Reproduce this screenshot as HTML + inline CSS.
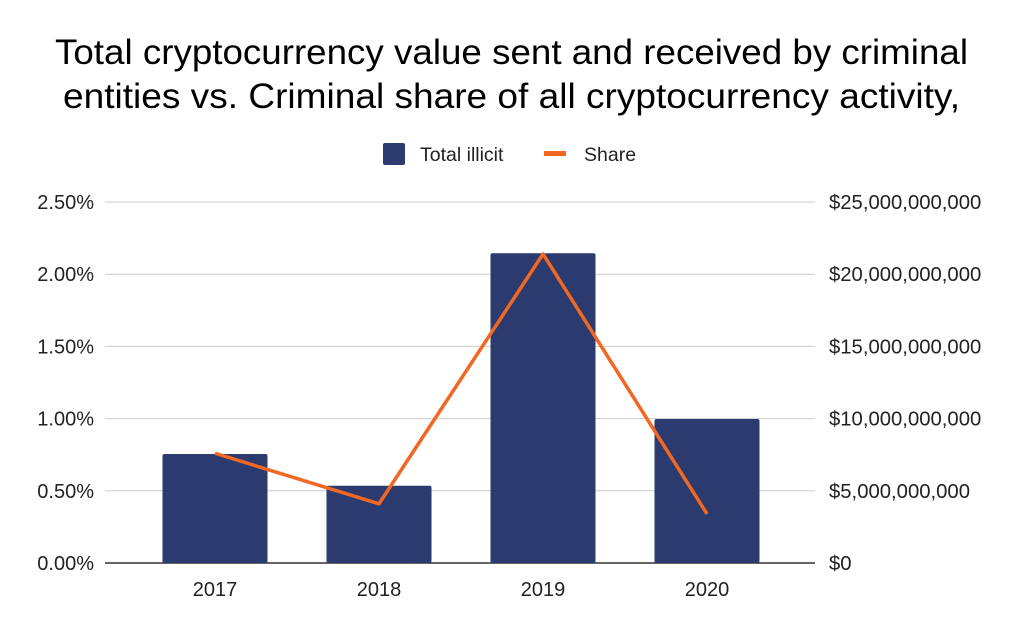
<!DOCTYPE html>
<html><head><meta charset="utf-8"><style>
html,body{margin:0;padding:0;background:#fff;}
svg{display:block;font-family:"Liberation Sans",Arial,sans-serif;}
</style></head><body>
<svg id="chart" width="1024" height="633" viewBox="0 0 1024 633">
<text x="55" y="64" textLength="913" lengthAdjust="spacingAndGlyphs" font-size="35" fill="#000">Total cryptocurrency value sent and received by criminal</text>
<text x="63" y="108" textLength="897" lengthAdjust="spacingAndGlyphs" font-size="35" fill="#000">entities vs. Criminal share of all cryptocurrency activity,</text>
<g>
<rect x="383" y="143" width="22" height="22" rx="2" fill="#2b3a6f"/>
<text x="420" y="161" font-size="19.5" fill="#222">Total illicit</text>
<rect x="544" y="151" width="22" height="5" fill="#f26722"/>
<text x="584" y="161" font-size="19.5" fill="#222">Share</text>
</g>
<g id="grid"></g><g id="bars"></g><g id="line"></g><g id="axes"></g>
</svg>
<script>
const categories=["2017","2018","2019","2020"];
const totalIllicit=[7.55e9,5.35e9,21.45e9,9.97e9];
const share=[0.76,0.41,2.14,0.34];
const leftTicks=["0.00%","0.50%","1.00%","1.50%","2.00%","2.50%"];
const rightTicks=["$0","$5,000,000,000","$10,000,000,000","$15,000,000,000","$20,000,000,000","$25,000,000,000"];
const NS="http://www.w3.org/2000/svg";
const y0=563,yTop=202,x0=105,x1=815,bandStart=133,band=164,barW=105;
const yL=v=>y0-(v/2.5)*(y0-yTop);
const yR=v=>y0-(v/25e9)*(y0-yTop);
const xC=i=>bandStart+band*(i+0.5);
function mk(tag,attrs,parent){const e=document.createElementNS(NS,tag);for(const k in attrs)e.setAttribute(k,attrs[k]);document.getElementById(parent).appendChild(e);return e;}
leftTicks.forEach((t,i)=>{
 const y=yL(i*0.5);
 const g=mk("line",{x1:x0,x2:x1,y1:y,y2:y,stroke:i==0?"#333":"#ccc","stroke-width":i==0?1.5:1},"grid");
 
 
 const l=mk("text",{x:94,y:y+7,"text-anchor":"end","font-size":20,fill:"#222"},"axes");l.textContent=t;
 
 
 const r=mk("text",{x:829,y:y+7,"font-size":20.3,fill:"#222"},"axes");r.textContent=rightTicks[i];
 
 
});
categories.forEach((c,i)=>{
 const yt=yR(totalIllicit[i]);
 const b=mk("rect",{x:xC(i)-barW/2,y:yt,width:barW,height:y0-yt,fill:"#2b3a6f",rx:2},"bars");
 
 
 const t=mk("text",{x:xC(i),y:596,"text-anchor":"middle","font-size":20,fill:"#222"},"axes");t.textContent=c;
 
 
});
const pl=mk("polyline",{points:share.map((v,i)=>xC(i)+","+yL(v)).join(" "),fill:"none",stroke:"#f26722","stroke-width":3.5,"stroke-linejoin":"round"},"line");


</script>
</body></html>
